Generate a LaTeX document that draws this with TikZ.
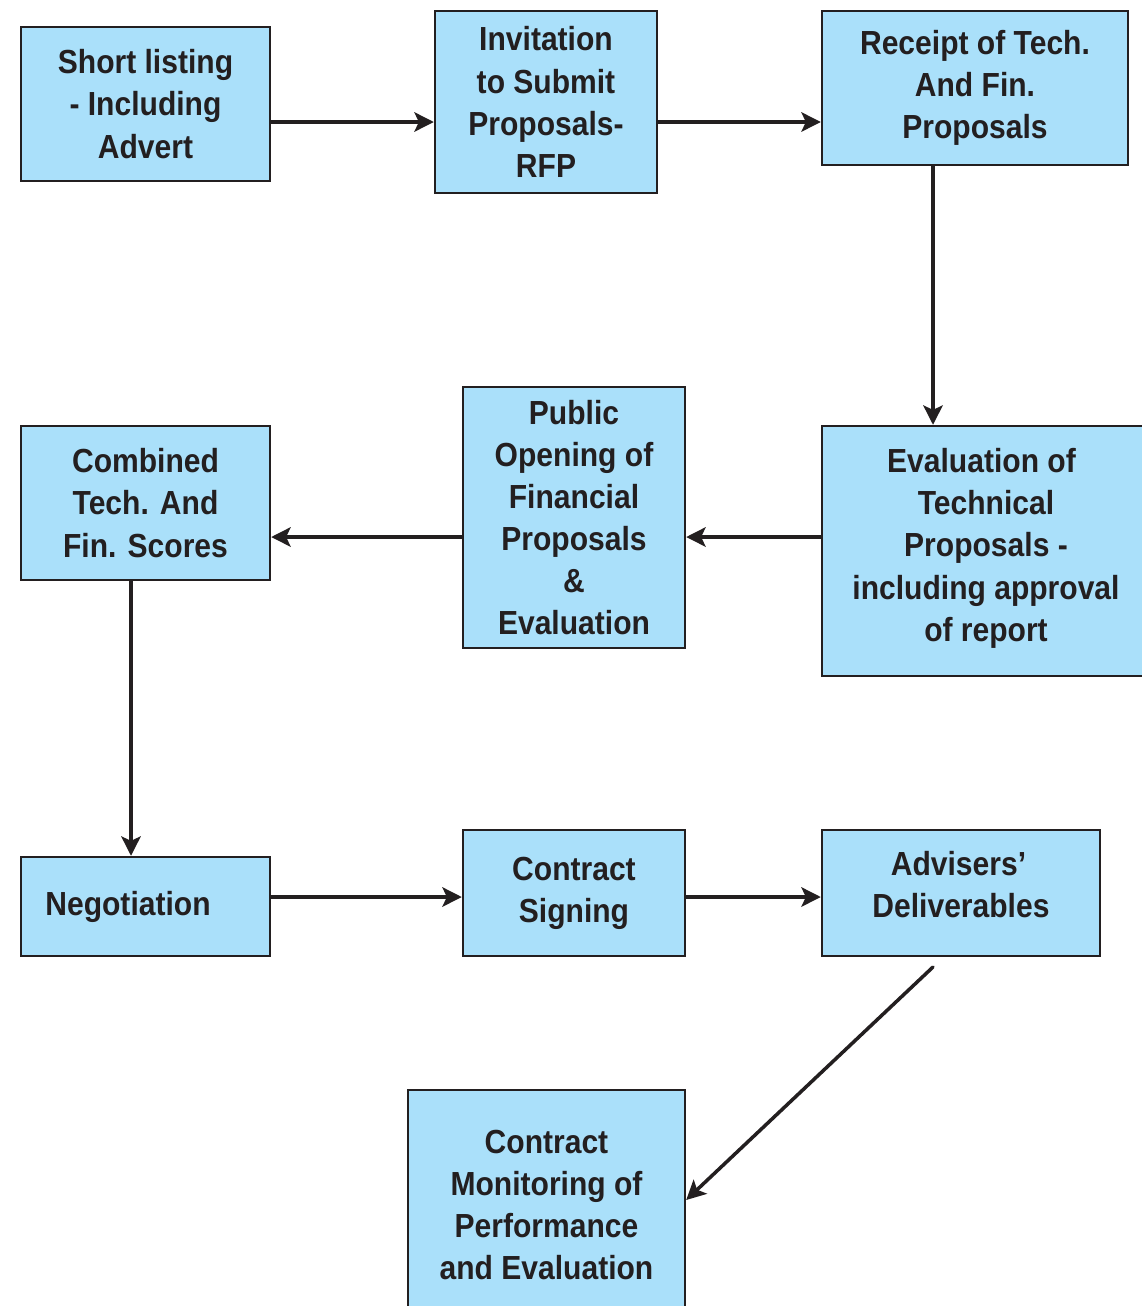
\documentclass[tikz,border=0pt]{standalone}
\usepackage{fontspec}
\setmainfont{Liberation Sans}[FakeStretch=0.9]
\usepackage{xcolor}
\usepackage{tikz}
\usetikzlibrary{arrows.meta,positioning}
\definecolor{boxblue}{RGB}{170, 224, 250}
\definecolor{edgegray}{RGB}{35, 31, 32}

\begin{document}
\begin{tikzpicture}[x=0.02cm, y=-0.02cm, >={Stealth[length=11pt,width=11pt,inset=2.5pt]},
    stagebox/.style={draw=edgegray, line width=1.4pt, fill=boxblue, align=center,
        font=\bfseries\fontsize{19pt}{24pt}\selectfont, text=edgegray, inner sep=0pt},
    flow/.style={->, draw=edgegray, line width=2pt}]
  \useasboundingbox (0,0) rectangle (1142,1306);
  % first row
  \node[stagebox, minimum width=4.98cm, minimum height=3.08cm] (short) at (145.5,104)
       {Short listing\\ - Including\\ Advert};
  \node[stagebox, minimum width=4.44cm, minimum height=3.64cm] (invit) at (546,102)
       {Invitation\\ to Submit\\ Proposals-\\ RFP};
  \node[stagebox, minimum width=6.12cm, minimum height=3.08cm] (receipt) at (975,88)
       {Receipt of Tech.\\ And Fin.\\ Proposals};
  % second row
  \node[stagebox, minimum width=6.56cm, minimum height=5cm] (evaltech) at (986,551)
       {\hspace*{-0.18cm}Evaluation of\\ Technical\\ Proposals -\\ including approval\\ of report\\[-17pt]};
  \node[stagebox, minimum width=4.44cm, minimum height=5.22cm] (public) at (574,517.5)
       {Public\\ Opening of\\ Financial\\ Proposals\\ \&\\ Evaluation};
  \node[stagebox, minimum width=4.98cm, minimum height=3.08cm] (combined) at (145.5,503)
       {Combined\\ Tech. And\\ Fin. Scores};
  % third row
  \node[stagebox, minimum width=4.98cm, minimum height=1.98cm] (nego) at (145.5,906.5)
       {\hspace*{-0.7cm}Negotiation};
  \node[stagebox, minimum width=4.44cm, minimum height=2.52cm] (signing) at (574,893)
       {Contract\\ Signing};
  \node[stagebox, minimum width=5.56cm, minimum height=2.52cm] (advisers) at (961,893)
       {\hspace*{-0.1cm}Advisers’\\ Deliverables\\[-14pt]};
  % last box
  \node[stagebox, minimum width=5.54cm, minimum height=4.6cm] (monitor) at (546.5,1205)
       {Contract\\ Monitoring of\\ Performance\\ and Evaluation};
  \coordinate (advout) at (933,967);
  % connectors
  \draw[flow] ([yshift=-0.36cm]short.east) -- ([yshift=-0.36cm]short.east -| invit.west);
  \draw[flow] ([yshift=-0.40cm]invit.east) -- ([yshift=-0.40cm]invit.east -| receipt.west);
  \draw[flow] ([xshift=-0.84cm]receipt.south) -- ([xshift=-0.84cm]receipt.south |- evaltech.north);
  \draw[flow] ([yshift=0.28cm]evaltech.west) -- ([yshift=0.28cm]evaltech.west -| public.east);
  \draw[flow] ([yshift=0.28cm]evaltech.west -| public.west) -- ([yshift=0.28cm]evaltech.west -| combined.east);
  \draw[flow] ([xshift=-0.29cm]combined.south) -- ([xshift=-0.29cm]combined.south |- nego.north);
  \draw[flow] ([yshift=0.19cm]nego.east) -- ([yshift=0.19cm]nego.east -| signing.west);
  \draw[flow] ([yshift=0.19cm]nego.east -| signing.east) -- ([yshift=0.19cm]nego.east -| advisers.west);
  \draw[flow, line cap=round] (advout) -- ([yshift=0.1cm]monitor.east);
\end{tikzpicture}
\end{document}
